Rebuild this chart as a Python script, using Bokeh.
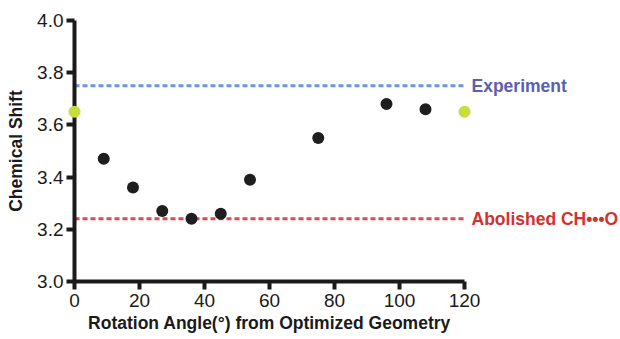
from bokeh.plotting import figure
from bokeh.models import Range1d, FixedTicker, PrintfTickFormatter
from bokeh.core.properties import value
from bokeh.embed import file_html
from bokeh.resources import INLINE

# data
angles = [9, 18, 27, 36, 45, 54, 75, 96, 108]
shifts = [3.47, 3.36, 3.27, 3.24, 3.26, 3.39, 3.55, 3.68, 3.66]
opt_angles = [0, 120]
opt_shifts = [3.65, 3.65]
ref_x = [0, 120]
experiment = 3.75
abolished = 3.24
ref_labels = ["Experiment", "Abolished CH•••O"]
x_ticks = [0, 20, 40, 60, 80, 100, 120]
y_ticks = [3.0, 3.2, 3.4, 3.6, 3.8, 4.0]

FONT = "Liberation Sans"
W, H = 620, 339
L, T = 74, 20
FW, FH = 390, 261
R = W - L - FW
B = H - T - FH

p = figure(frame_width=FW, frame_height=FH, output_backend="svg", toolbar_location=None,
           x_range=Range1d(0, 120), y_range=Range1d(3.0, 4.0),
           min_border_left=L, min_border_top=T,
           min_border_right=R, min_border_bottom=B)
p.outline_line_color = None
p.grid.visible = False
p.background_fill_color = "white"

for ax in (p.xaxis[0], p.yaxis[0]):
    ax.axis_line_width = 4
    ax.axis_line_color = "#1a1a1a"
    ax.major_tick_line_width = 4
    ax.major_tick_line_color = "#1a1a1a"
    ax.major_tick_in = 0
    ax.major_tick_out = 8
    ax.minor_tick_line_color = None
    ax.major_label_text_font = FONT
    ax.major_label_text_font_size = "19px"
    ax.major_label_text_color = "#1a1a1a"
    ax.axis_label_text_font = FONT
    ax.axis_label_text_font_size = "17.5px"
    ax.axis_label_text_font_style = "bold"
    ax.axis_label_text_color = "#1a1a1a"

p.xaxis.ticker = FixedTicker(ticks=x_ticks)
p.yaxis.ticker = FixedTicker(ticks=y_ticks)
p.yaxis.formatter = PrintfTickFormatter(format="%.1f")
p.xaxis.axis_label = "Rotation Angle(°) from Optimized Geometry"
p.yaxis.axis_label = "Chemical Shift"
p.xaxis.major_label_standoff = 4
p.yaxis.major_label_standoff = 3
p.xaxis.axis_label_standoff = 3
p.yaxis.axis_label_standoff = 8

p.line(ref_x, [experiment] * 2, line_color="#6f95d8", line_width=3, line_dash="5 3")
p.line(ref_x, [abolished] * 2, line_color="#e0474f", line_width=3, line_dash="5 3")

r1 = p.scatter(angles, shifts, size=12, fill_color="#1e1e1e", line_color=None)
r2 = p.scatter(opt_angles, opt_shifts, size=12, fill_color="#c8dc3c", line_color=None)
r1.level = "overlay"
r2.level = "overlay"

t = p.text(x=[ref_x[1], ref_x[1]], y=[experiment, abolished], text=ref_labels,
           x_offset=7, text_baseline="middle", text_font=value(FONT),
           text_font_size="17.5px", text_font_style="bold",
           text_color=["#5a5fb0", "#d3312f"])
t.level = "overlay"

open("out.html", "w").write(file_html(p, INLINE))
